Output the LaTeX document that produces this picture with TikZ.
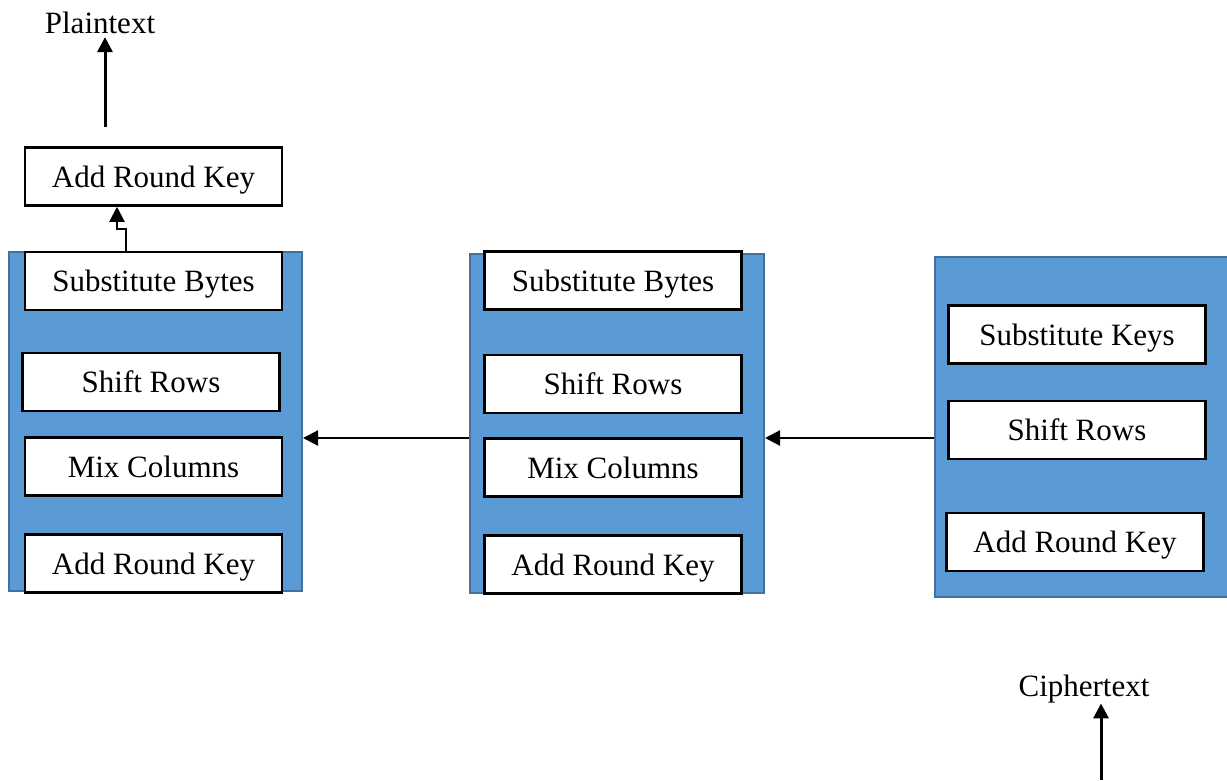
\documentclass[tikz,border=0pt]{standalone}
\usepackage{fontspec}
\setmainfont{Liberation Serif}
\usetikzlibrary{arrows.meta}
\definecolor{roundblue}{RGB}{91,155,213}
\definecolor{roundedge}{RGB}{65,113,156}

\begin{document}
\begin{tikzpicture}[
    x=1pt, y=-1pt,
    roundblock/.style={
       draw=roundedge, fill=roundblue,
       line width=2pt, inner sep=0pt
        },
    stepbox/.style={
       draw=black, fill=white, line width=2.5pt,
       minimum width=257pt, minimum height=58pt, inner sep=0pt,
       text height=21pt, text depth=0pt,
       font=\fontsize{31}{36}\selectfont
        },
    endtext/.style={font=\fontsize{31}{36}\selectfont, inner sep=0pt},
    flow/.style={line width=2.2pt, -{Triangle[width=15pt,length=15pt]}}
    ]
\useasboundingbox (0,0) rectangle (1227,780);

% the three round blocks
\node [roundblock, minimum width=293pt, minimum height=339pt] (blk-1) at (155.5,421.5) {};
\node [roundblock, minimum width=294pt, minimum height=339pt] (blk-2) at (617,423.5) {};
\node [roundblock, minimum width=293pt, minimum height=340pt] (blk-3) at (1081.5,427) {};

% last round (left)
\node [stepbox] (ark-0) at (153.5,176.5) {Add Round Key};
\node [stepbox] (sb-1)  at (153.5,281)   {Substitute Bytes};
\node [stepbox] (sr-1)  at (151,382)     {Shift Rows};
\node [stepbox] (mc-1)  at (153.5,466.5) {Mix Columns};
\node [stepbox] (ark-1) at (153.5,563.5) {Add Round Key};

% middle round
\node [stepbox] (sb-2)  at (613,280.5) {Substitute Bytes};
\node [stepbox] (sr-2)  at (613,384)   {Shift Rows};
\node [stepbox] (mc-2)  at (613,467.5) {Mix Columns};
\node [stepbox] (ark-2) at (613,564.5) {Add Round Key};

% first round (right)
\node [stepbox] (sk-3)  at (1077,334.5) {Substitute Keys};
\node [stepbox] (sr-3)  at (1077,430)   {Shift Rows};
\node [stepbox] (ark-3) at (1075,542)   {Add Round Key};

\node [endtext] (plain)  at (100,23)   {Plaintext};
\node [endtext] (cipher) at (1084,689) {Ciphertext};

\coordinate (link) at (0,438);
\coordinate (pt-tail) at (105,127);
\coordinate (ct-tail) at (1101,780);

\draw [flow] (blk-3.west |- link) -- (blk-2.east |- link);
\draw [flow] (blk-2.west |- link) -- (blk-1.east |- link);
\draw [flow, line width=2pt] ([xshift=-27.5pt]sb-1.north) |- ++(0,-22) -| ([xshift=-36.5pt]ark-0.south);
\draw [flow, line width=3pt] (pt-tail) -- ([yshift=-3pt]plain.south -| pt-tail);
\draw [flow, line width=3pt] (ct-tail) -- ([yshift=-7pt]cipher.base -| ct-tail);
\end{tikzpicture}
\end{document}
